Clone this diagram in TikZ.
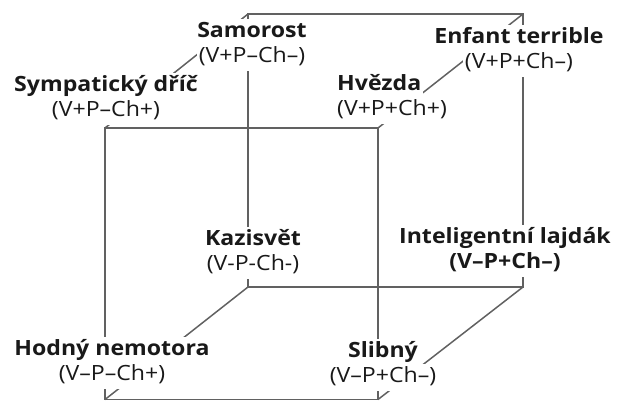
\documentclass[tikz,border=0pt]{standalone}
\usepackage{fontspec}
\setmainfont{Open Sans}[FakeStretch=1.1]
\usetikzlibrary{positioning}

\tikzset{
  hrana/.style={draw=black!62, line width=1.5pt},
  typ/.style={fill=white, inner xsep=2pt, inner ysep=2pt, text height=16.5pt, text depth=6pt,
    text=black!90, font=\fontsize{21}{25}\selectfont\bfseries},
  kod/.style={typ, font=\fontsize{21}{25}\selectfont}
}

\begin{document}
\begin{tikzpicture}[x=1pt,y=-1pt]
  \useasboundingbox (0,0) rectangle (619,400);
  % rohy krychle
  \coordinate (A) at (248,14);
  \coordinate (B) at (523,14);
  \coordinate (C) at (105,128);
  \coordinate (D) at (378,128);
  \coordinate (E) at (248,287);
  \coordinate (F) at (523,287);
  \coordinate (G) at (105,399.5);
  \coordinate (H) at (378,399.5);
  % hrany
  \draw[hrana] (A) -- (B) -- (F) -- (E) -- cycle;
  \draw[hrana] (C) -- (D) -- (H) -- (G) -- cycle;
  \draw[hrana] (A) -- (C);
  \draw[hrana] (B) -- (D);
  \draw[hrana] (E) -- (G);
  \draw[hrana] (F) -- (H);
  % popisky
  \node[typ] (samorost) at (252,32) {Samorost};
  \node[kod, below=-1.5pt of samorost] (samorost-kod) {(V+P–Ch–)};
  \node[typ] (enfant) at (519,38) {Enfant terrible};
  \node[kod, below=-1.5pt of enfant] (enfant-kod) {(V+P+Ch–)};
  \node[typ] (sympaticky) at (106,86) {Sympatický dříč};
  \node[kod, below=-1.5pt of sympaticky] (sympaticky-kod) {(V+P–Ch+)};
  \node[typ, anchor=west] (hvezda) at (335,85) {Hvězda};
  \node[kod, below=-1.5pt of hvezda.south west, anchor=north west] (hvezda-kod) {(V+P+Ch+)};
  \node[typ] (kazisvet) at (253,240) {Kazisvět};
  \node[kod, below=-1.5pt of kazisvet] (kazisvet-kod) {(V-P-Ch-)};
  \node[typ] (lajdak) at (505,238) {Inteligentní lajdák};
  \node[typ, below=-1.5pt of lajdak] (lajdak-kod) {(V–P+Ch–)};
  \node[typ] (nemotora) at (112,350) {Hodný nemotora};
  \node[kod, below=-1.5pt of nemotora] (nemotora-kod) {(V–P–Ch+)};
  \node[typ] (slibny) at (383,352) {Slibný};
  \node[kod, below=-1.5pt of slibny] (slibny-kod) {(V–P+Ch–)};
\end{tikzpicture}
\end{document}
